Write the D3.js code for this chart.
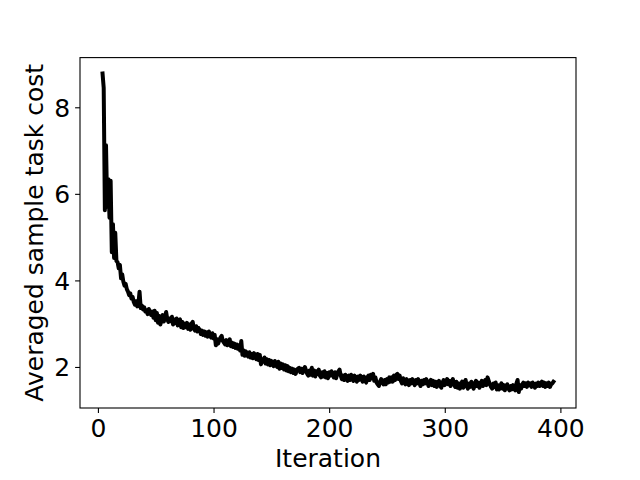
<!DOCTYPE html>
<html>
<head>
<meta charset="utf-8">
<script src="https://cdn.jsdelivr.net/npm/d3@7"></script>
<style>
  html, body { margin: 0; padding: 0; background: #fff; }
  svg { display: block; }
  text { font-family: "DejaVu Sans", sans-serif; fill: #000; }
</style>
</head>
<body>
<svg id="chart" width="640" height="480"></svg>
<script>
// ---- data ----
const startIteration = 4;
const cost = [
  8.78, 8.45, 5.62, 7.12, 5.70, 6.34, 5.45, 6.30, 4.65, 5.30,
  4.52, 5.10, 4.45, 4.42, 4.28, 4.36, 4.05, 4.14, 3.97, 3.88,
  3.92, 3.80, 3.74, 3.66, 3.70, 3.58, 3.62, 3.50, 3.44, 3.52,
  3.40, 3.46, 3.74, 3.36, 3.42, 3.33, 3.38, 3.28, 3.30, 3.22,
  3.34, 3.26, 3.20, 3.28, 3.14, 3.30, 3.08, 3.25, 3.02, 3.18,
  2.98, 3.12, 3.20, 3.05, 3.16, 3.27, 3.10, 3.04, 3.12, 3.06,
  3.16, 2.98, 3.10, 3.02, 3.12, 2.96, 3.08, 3.10, 2.92, 3.04,
  2.90, 3.00, 2.92, 3.02, 2.88, 2.98, 2.86, 3.00, 3.04, 2.88,
  2.84, 2.94, 2.82, 2.90, 2.86, 2.76, 2.84, 2.74, 2.82, 2.72,
  2.80, 2.70, 2.82, 2.72, 2.68, 2.78, 2.66, 2.74, 2.50, 2.64,
  2.54, 2.62, 2.68, 2.72, 2.60, 2.56, 2.52, 2.62, 2.50, 2.58,
  2.64, 2.48, 2.56, 2.46, 2.54, 2.44, 2.52, 2.42, 2.50, 2.38,
  2.60, 2.28, 2.38, 2.26, 2.36, 2.28, 2.24, 2.34, 2.22, 2.30,
  2.20, 2.32, 2.24, 2.18, 2.30, 2.16, 2.28, 2.06, 2.18, 2.12,
  2.22, 2.08, 2.18, 2.06, 2.16, 2.04, 2.14, 2.08, 2.02, 2.14,
  2.04, 2.00, 2.12, 1.96, 2.08, 1.98, 2.06, 1.94, 2.04, 1.92,
  2.02, 1.90, 1.98, 1.88, 1.96, 1.86, 1.94, 1.84, 1.92, 1.96,
  1.98, 1.88, 1.96, 1.86, 1.94, 2.00, 1.92, 1.84, 1.80, 1.92,
  1.82, 1.98, 1.80, 1.92, 1.78, 1.90, 1.84, 1.94, 1.80, 1.76,
  1.88, 1.78, 1.90, 1.76, 1.86, 1.74, 1.88, 1.80, 1.90, 1.82,
  1.76, 1.88, 1.74, 1.84, 1.90, 1.94, 1.80, 1.72, 1.80, 1.70,
  1.82, 1.72, 1.68, 1.80, 1.70, 1.82, 1.74, 1.68, 1.80, 1.72,
  1.66, 1.78, 1.70, 1.80, 1.72, 1.66, 1.78, 1.70, 1.64, 1.76,
  1.80, 1.70, 1.82, 1.74, 1.84, 1.68, 1.76, 1.64, 1.60, 1.56,
  1.66, 1.72, 1.64, 1.60, 1.70, 1.60, 1.72, 1.64, 1.76, 1.66,
  1.76, 1.66, 1.80, 1.70, 1.82, 1.84, 1.72, 1.80, 1.68, 1.62,
  1.74, 1.64, 1.60, 1.72, 1.62, 1.58, 1.70, 1.62, 1.72, 1.64,
  1.58, 1.70, 1.62, 1.72, 1.64, 1.56, 1.68, 1.60, 1.70, 1.62,
  1.72, 1.64, 1.56, 1.66, 1.70, 1.58, 1.68, 1.56, 1.66, 1.54,
  1.64, 1.68, 1.56, 1.52, 1.64, 1.70, 1.58, 1.66, 1.72, 1.60,
  1.68, 1.56, 1.66, 1.72, 1.60, 1.54, 1.66, 1.52, 1.62, 1.50,
  1.60, 1.66, 1.52, 1.62, 1.70, 1.56, 1.50, 1.62, 1.54, 1.66,
  1.56, 1.50, 1.62, 1.68, 1.56, 1.64, 1.52, 1.62, 1.68, 1.56,
  1.64, 1.70, 1.58, 1.76, 1.68, 1.60, 1.54, 1.50, 1.62, 1.54,
  1.64, 1.48, 1.58, 1.48, 1.56, 1.62, 1.50, 1.58, 1.46, 1.56,
  1.60, 1.50, 1.46, 1.56, 1.48, 1.58, 1.50, 1.46, 1.62, 1.70,
  1.42, 1.58, 1.50, 1.60, 1.64, 1.56, 1.62, 1.54, 1.64, 1.58,
  1.62, 1.54, 1.64, 1.58, 1.52, 1.62, 1.56, 1.64, 1.56, 1.62,
  1.66, 1.56, 1.64, 1.54, 1.62, 1.56, 1.64, 1.54, 1.60, 1.62,
  1.66
];
const xTicks = [0, 100, 200, 300, 400];
const yTicks = [2, 4, 6, 8];
const xLabel = "Iteration";
const yLabel = "Averaged sample task cost";

const points = cost.map((v, i) => ({ it: startIteration + i, v }));

// ---- layout ----
const m = { left: 80, right: 576, top: 57.6, bottom: 408 };
const svg = d3.select("#chart");

function padded(ext) {
  const s = ext[1] - ext[0];
  return [ext[0] - 0.05 * s, ext[1] + 0.05 * s];
}
const x = d3.scaleLinear().domain(padded(d3.extent(points, d => d.it))).range([m.left, m.right]);
const y = d3.scaleLinear().domain(padded(d3.extent(points, d => d.v))).range([m.bottom, m.top]);

// line
const g = svg.append("g");
g.append("clipPath").attr("id", "clip").append("rect")
  .attr("x", m.left).attr("y", m.top).attr("width", m.right - m.left).attr("height", m.bottom - m.top);
g.append("path")
  .datum(points)
  .attr("clip-path", "url(#clip)")
  .attr("fill", "none")
  .attr("stroke", "#000")
  .attr("stroke-width", 4)
  .attr("stroke-linejoin", "round")
  .attr("stroke-linecap", "square")
  .attr("d", d3.line().x(d => x(d.it)).y(d => y(d.v)));

// axes
const fs = 25;
const xAxis = d3.axisBottom(x).tickValues(xTicks).tickSize(4.9).tickPadding(4.9).tickFormat(d3.format("d"));
const yAxis = d3.axisLeft(y).tickValues(yTicks).tickSize(4.9).tickPadding(4.9).tickFormat(d3.format("d"));

const gx = svg.append("g").attr("transform", `translate(0,${m.bottom})`).call(xAxis);
const gy = svg.append("g").attr("transform", `translate(${m.left},0)`).call(yAxis);
[gx, gy].forEach(a => {
  a.select(".domain").remove();
  a.selectAll(".tick line").attr("stroke", "#000").attr("stroke-width", 1.1);
  a.selectAll(".tick text").attr("font-family", "DejaVu Sans").attr("font-size", fs).attr("fill", "#000");
});
gx.selectAll(".tick text").attr("dy", null).attr("y", 9.8 + 19);
gy.selectAll(".tick text").attr("dy", null).attr("dominant-baseline", null).attr("y", 9);

// frame
svg.append("rect")
  .attr("x", m.left).attr("y", m.top)
  .attr("width", m.right - m.left).attr("height", m.bottom - m.top)
  .attr("fill", "none").attr("stroke", "#000").attr("stroke-width", 1.1);

// labels
svg.append("text")
  .attr("x", (m.left + m.right) / 2).attr("y", 467)
  .attr("text-anchor", "middle").attr("font-size", fs)
  .text(xLabel);
svg.append("text")
  .attr("transform", `translate(43,${(m.top + m.bottom) / 2}) rotate(-90)`)
  .attr("text-anchor", "middle").attr("font-size", fs)
  .text(yLabel);
</script>
</body>
</html>
